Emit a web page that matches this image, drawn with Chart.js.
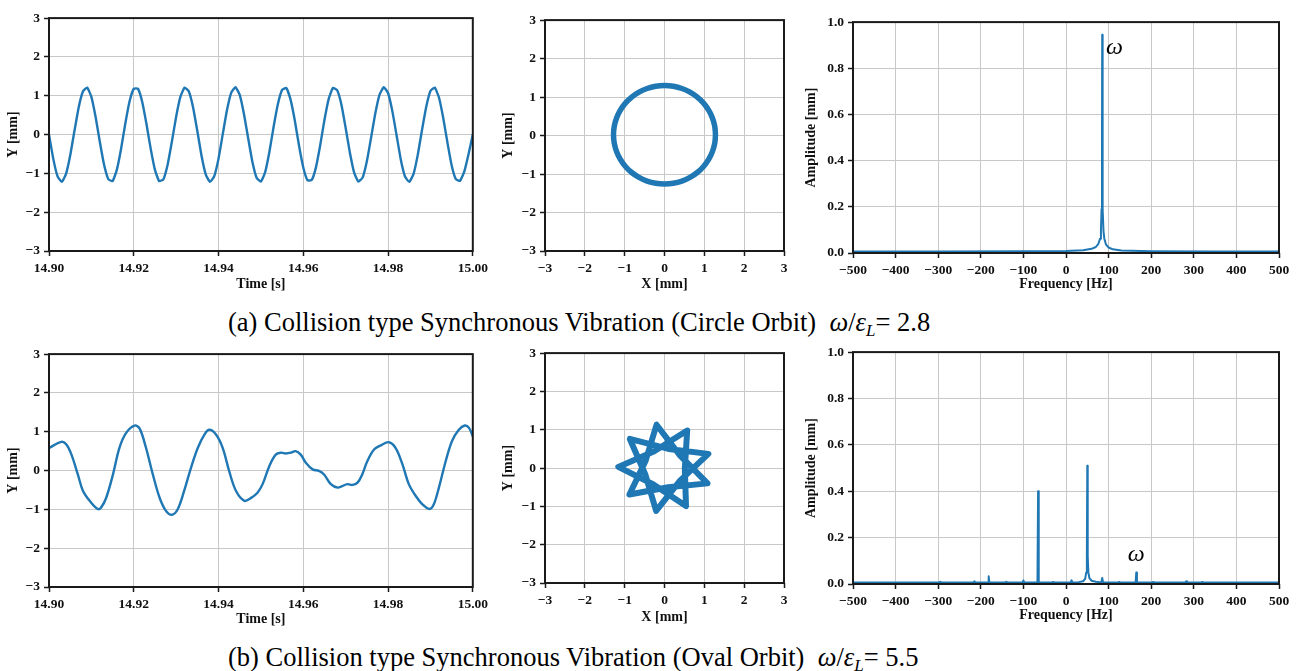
<!DOCTYPE html>
<html><head><meta charset="utf-8">
<script src="https://cdn.jsdelivr.net/npm/chart.js@4.4.1/dist/chart.umd.min.js"></script>
<style>
html,body{margin:0;padding:0;background:#fff;width:1298px;height:671px;overflow:hidden;position:relative;}
canvas{position:absolute;}
.cap{position:absolute;font-family:'Liberation Serif','Times New Roman',serif;font-size:26.5px;color:#000;white-space:pre;line-height:1;}
.cap sub{font-size:17px;vertical-align:-5px;line-height:0;}
</style></head><body>
<div class="cap" id="capA" style="left:228px;top:309px;">(a) Collision type Synchronous Vibration (Circle Orbit)  <i>ω</i>/<i>ε<sub>L</sub></i>= 2.8</div>
<div class="cap" id="capB" style="left:228px;top:644px;">(b) Collision type Synchronous Vibration (Oval Orbit)  <i>ω</i>/<i>ε<sub>L</sub></i>= 5.5</div>
<script>
// ---------------- DATA ----------------
// (a) time signal, sampled every 1 ms from 14.900 s
const tStartA = 14.900, dtA = 0.001;
const yA = [0, -0.62, -1.07, -1.22, -1.02, -0.54, 0.09, 0.70, 1.11, 1.21,
  0.97, 0.45, -0.19, -0.78, -1.15, -1.20, -0.91, -0.37, 0.28, 0.85,
  1.18, 1.18, 0.84, 0.27, -0.37, -0.91, -1.20, -1.15, -0.77, -0.18,
  0.46, 0.97, 1.21, 1.11, 0.70, 0.09, -0.55, -1.03, -1.22, -1.07,
  -0.62, 0.01, 0.63, 1.08, 1.22, 1.02, 0.53, -0.10, -0.71, -1.12,
  -1.21, -0.97, -0.45, 0.20, 0.78, 1.15, 1.20, 0.90, 0.36, -0.29,
  -0.85, -1.18, -1.17, -0.84, -0.27, 0.38, 0.92, 1.20, 1.14, 0.77,
  0.17, -0.47, -0.98, -1.21, -1.11, -0.69, -0.08, 0.55, 1.03, 1.22,
  1.07, 0.61, -0.01, -0.64, -1.08, -1.22, -1.02, -0.53, 0.11, 0.71,
  1.12, 1.21, 0.96, 0.44, -0.20, -0.79, -1.15, -1.19, -0.95, -0.50, 0.00];

// (a) orbit
const orbitAX = [1.280, 1.261, 1.203, 1.108, 0.981, 0.823, 0.640, 0.438, 0.222, 0, -0.222, -0.438, -0.640, -0.823, -0.981, -1.108, -1.203, -1.261,
  -1.280, -1.261, -1.203, -1.108, -0.981, -0.823, -0.640, -0.438, -0.222, 0, 0.222, 0.438, 0.640, 0.823, 0.981, 1.108, 1.203, 1.261, 1.280];
const orbitAY = [0.020, 0.242, 0.458, 0.660, 0.843, 1.000, 1.128, 1.223, 1.281, 1.300, 1.281, 1.223, 1.128, 1.000, 0.843, 0.660, 0.458, 0.242,
  0.020, -0.202, -0.418, -0.620, -0.803, -0.960, -1.088, -1.183, -1.241, -1.260, -1.241, -1.183, -1.088, -0.960, -0.803, -0.620, -0.418, -0.202, 0.020];

// (a) spectrum
const freqA = [-500, -300, -100, 0, 40, 60, 70, 76, 80, 82, 83.5, 84.5, 85, 85.5, 86.5, 88, 90, 94, 100, 110, 130, 200, 350, 500];
const ampA  = [0.007, 0.007, 0.008, 0.009, 0.012, 0.018, 0.026, 0.040, 0.062, 0.095, 0.19, 0.45, 0.945, 0.45, 0.19, 0.095, 0.062, 0.036, 0.024, 0.016, 0.011, 0.008, 0.007, 0.007];

// (b) time signal
const tB = [14.9000, 14.9029, 14.9041, 14.9053, 14.9068, 14.9080, 14.9096, 14.9115, 14.9123, 14.9135,
  14.9151, 14.9166, 14.9182, 14.9202, 14.9214, 14.9229, 14.9245, 14.9261, 14.9276, 14.9290,
  14.9304, 14.9319, 14.9335, 14.9351, 14.9367, 14.9378, 14.9394, 14.9410, 14.9425, 14.9441,
  14.9461, 14.9476, 14.9492, 14.9504, 14.9520, 14.9535, 14.9547, 14.9559, 14.9571, 14.9582,
  14.9594, 14.9606, 14.9622, 14.9637, 14.9649, 14.9665, 14.9681, 14.9692, 14.9704, 14.9716,
  14.9728, 14.9739, 14.9751, 14.9767, 14.9783, 14.9802, 14.9818, 14.9834, 14.9849, 14.9865,
  14.9881, 14.9898, 14.9908, 14.9920, 14.9936, 14.9951, 14.9967, 14.9981, 14.9991, 15.0000];
const yB = [0.58, 0.74, 0.67, 0.41, -0.10, -0.52, -0.78, -0.99, -0.95, -0.70,
  -0.10, 0.58, 0.97, 1.16, 1.08, 0.58, -0.10, -0.70, -1.04, -1.14,
  -0.99, -0.52, 0.07, 0.58, 0.93, 1.05, 0.93, 0.58, -0.01, -0.52,
  -0.78, -0.71, -0.57, -0.35, 0.12, 0.41, 0.46, 0.44, 0.46, 0.50,
  0.41, 0.20, 0.03, -0.01, -0.10, -0.35, -0.44, -0.40, -0.35, -0.37,
  -0.31, -0.10, 0.24, 0.54, 0.65, 0.73, 0.58, 0.16, -0.35, -0.65,
  -0.87, -0.99, -0.87, -0.44, 0.24, 0.76, 1.05, 1.16, 1.10, 0.88];

// (b) orbit: 9-pointed star traced as three overlapping loops (null = pen lift)
const orbitBX = [0.102, -0.87, -0.484, -0.21, 0.390, 1.10, 0.102, null,
  -0.257, -1.16, -0.277, 0.54, 0.510, 0.57, -0.257, null,
  -0.473, -0.88, 0.092, 1.08, 0.392, -0.20, -0.473];
const orbitBY = [0.499, 0.76, -0.161, -1.12, -0.329, 0.37, 0.499, null,
  0.440, 0.03, -0.429, -0.99, -0.005, 0.98, 0.440, null,
  0.193, -0.69, -0.502, -0.40, 0.326, 1.13, 0.193];

// (b) spectrum
const freqB = [-500, -297, -295, -293, -217, -215, -213, -183, -181.5, -180, -142, -140, -138, -102, -100, -98,
  -67, -65.5, -64, -32, -30, -28, 11, 13, 15, 30, 40, 45, 47.5, 49, 50, 51, 52.5, 55, 60, 70,
  83, 85, 87, 123, 125, 127, 163.5, 165, 166.5, 203, 205, 207, 280, 282, 284, 318, 320, 322, 500];
const ampB = [0.007, 0.007, 0.010, 0.007, 0.007, 0.012, 0.007, 0.007, 0.033, 0.007, 0.007, 0.010, 0.007, 0.007, 0.015, 0.007,
  0.007, 0.40, 0.007, 0.007, 0.009, 0.007, 0.007, 0.016, 0.007, 0.008, 0.012, 0.022, 0.05, 0.12, 0.51, 0.12, 0.05, 0.025, 0.014, 0.010,
  0.007, 0.026, 0.008, 0.007, 0.009, 0.007, 0.007, 0.05, 0.007, 0.007, 0.009, 0.007, 0.007, 0.012, 0.007, 0.007, 0.009, 0.007, 0.007];

// tick labels
const timeTicks = [14.90, 14.92, 14.94, 14.96, 14.98, 15.00];
const mmTicks = [-3, -2, -1, 0, 1, 2, 3];
const freqTicks = [-500, -400, -300, -200, -100, 0, 100, 200, 300, 400, 500];
const ampTicks = [0.0, 0.2, 0.4, 0.6, 0.8, 1.0];

// annotation labels (data coordinates)
const omegaA = {x: 114, y: 0.89, text: 'ω'};
const omegaB = {x: 165, y: 0.128, text: 'ω'};

// ---------------- RENDERING ----------------
const SERIF = "'Liberation Serif','Times New Roman',serif";
const BLUE = '#1f77b4';
const minus = s => String(s).replace('-', '\u2212');
Chart.defaults.font.family = SERIF;
Chart.defaults.font.weight = 'bold';
Chart.defaults.font.size = 13;
Chart.defaults.color = '#111';

const framePlugin = {
  id: 'frame',
  afterDraw(chart) {
    const a = chart.chartArea, ctx = chart.ctx;
    ctx.save();
    ctx.strokeStyle = '#1a1a1a';
    ctx.lineWidth = 2;
    ctx.strokeRect(a.left, a.top, a.right - a.left, a.bottom - a.top);
    ctx.restore();
  }
};
const omegaPlugin = {
  id: 'omega',
  afterDraw(chart, args, opts) {
    if (!opts || !opts.text) return;
    const ctx = chart.ctx;
    const px = chart.scales.x.getPixelForValue(opts.x);
    const py = chart.scales.y.getPixelForValue(opts.y);
    ctx.save();
    ctx.font = "italic 24px " + SERIF;
    ctx.fillStyle = '#000';
    ctx.textAlign = 'center';
    ctx.textBaseline = 'middle';
    ctx.fillText(opts.text, px, py);
    ctx.restore();
  }
};

function axis(ticksArr, fmt, title, size, isX) {
  return {
    type: 'linear',
    min: ticksArr[0], max: ticksArr[ticksArr.length - 1],
    afterBuildTicks: s => { s.ticks = ticksArr.map(v => ({value: v})); },
    afterFit: s => { if (isX) s.height = size; else s.width = size; },
    grid: {color: '#c8c8c8', lineWidth: 1, tickColor: '#1a1a1a', tickLength: 5, tickWidth: 1.5, drawTicks: true},
    border: {display: false},
    ticks: {color: '#111', font: {family: SERIF, size: 13.5, weight: 'bold'}, padding: 4, maxRotation: 0, autoSkip: false,
      callback: v => fmt(v)},
    title: {display: true, text: title, color: '#111', font: {family: SERIF, size: 14, weight: 'bold'}, padding: 0}
  };
}

function panel(p) {
  const PT = 10;
  const ct = p.y0 - PT, cw = p.x1 + p.pr - p.cl, ch = p.cb - ct;
  const cv = document.createElement('canvas');
  cv.width = cw; cv.height = ch;
  cv.style.left = p.cl + 'px'; cv.style.top = ct + 'px';
  cv.style.width = cw + 'px'; cv.style.height = ch + 'px';
  document.body.appendChild(cv);
  new Chart(cv.getContext('2d'), {
    type: 'scatter',
    data: {datasets: [{
      data: p.data, showLine: true, spanGaps: false, pointRadius: 0, borderColor: BLUE, backgroundColor: BLUE,
      borderWidth: p.lw, tension: p.tension, fill: false, borderJoinStyle: 'round', borderCapStyle: 'round'
    }]},
    options: {
      responsive: false, animation: false, devicePixelRatio: 1,
      layout: {padding: {left: 0, top: PT, right: p.pr, bottom: 0}},
      plugins: {legend: {display: false}, tooltip: {enabled: false}, omega: p.omega || {}},
      scales: {
        x: axis(p.xt, p.xf, p.xtitle, p.cb - p.y1, true),
        y: axis(p.yt, p.yf, p.ytitle, p.x0 - p.cl, false)
      }
    },
    plugins: [framePlugin, omegaPlugin]
  });
}

const pts = (xs, ys) => xs.map((x, i) => ({x: x, y: ys[i]}));
const fmtT = v => v.toFixed(2);
const fmtI = v => minus(v);
const fmtA = v => v.toFixed(1);

panel({x0: 49, y0: 16, x1: 474, y1: 251, cl: 5, cb: 293, pr: 18,
  data: yA.map((y, i) => ({x: tStartA + i * dtA, y: y})), lw: 2.4, tension: 0.15,
  xt: timeTicks, xf: fmtT, xtitle: 'Time [s]', yt: mmTicks, yf: fmtI, ytitle: 'Y [mm]'});
panel({x0: 545, y0: 18, x1: 784, y1: 251, cl: 500, cb: 293, pr: 16,
  data: pts(orbitAX, orbitAY), lw: 5.5, tension: 0.4,
  xt: mmTicks, xf: fmtI, xtitle: 'X [mm]', yt: mmTicks, yf: fmtI, ytitle: 'Y [mm]'});
panel({x0: 853, y0: 20, x1: 1279, y1: 253, cl: 803, cb: 293, pr: 19,
  data: pts(freqA, ampA), lw: 2, tension: 0, omega: omegaA,
  xt: freqTicks, xf: fmtI, xtitle: 'Frequency [Hz]', yt: ampTicks, yf: fmtA, ytitle: 'Amplitude [mm]'});

panel({x0: 49, y0: 352, x1: 474, y1: 587, cl: 5, cb: 628, pr: 18,
  data: pts(tB, yB), lw: 2.4, tension: 0.35,
  xt: timeTicks, xf: fmtT, xtitle: 'Time [s]', yt: mmTicks, yf: fmtI, ytitle: 'Y [mm]'});
panel({x0: 545, y0: 351, x1: 784, y1: 583, cl: 500, cb: 626, pr: 16,
  data: pts(orbitBX, orbitBY), lw: 6, tension: 0,
  xt: mmTicks, xf: fmtI, xtitle: 'X [mm]', yt: mmTicks, yf: fmtI, ytitle: 'Y [mm]'});
panel({x0: 853, y0: 350, x1: 1279, y1: 584, cl: 803, cb: 624, pr: 19,
  data: pts(freqB, ampB), lw: 2, tension: 0, omega: omegaB,
  xt: freqTicks, xf: fmtI, xtitle: 'Frequency [Hz]', yt: ampTicks, yf: fmtA, ytitle: 'Amplitude [mm]'});
</script>
</body></html>
